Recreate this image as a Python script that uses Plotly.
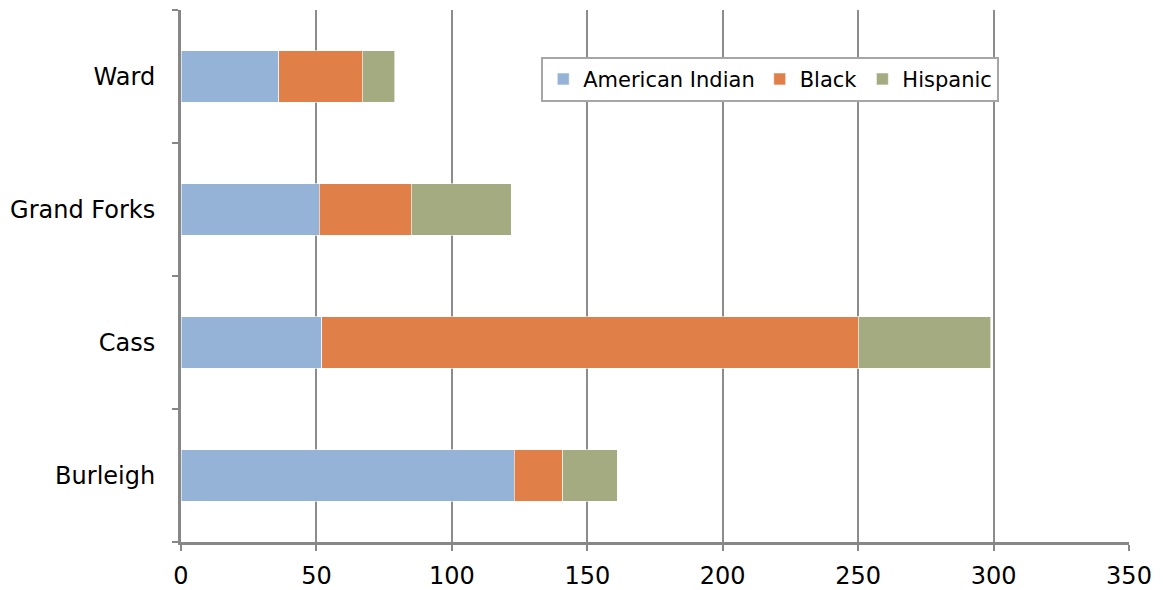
import plotly.graph_objects as go

counties = ["Burleigh", "Cass", "Grand Forks", "Ward"]
american_indian = [123, 52, 51, 36]
black = [18, 198, 34, 31]
hispanic = [20, 49, 37, 12]
x_ticks = [0, 50, 100, 150, 200, 250, 300, 350]

series = [
    ("American Indian", american_indian, "#95b3d7"),
    ("Black", black, "#e07f47"),
    ("Hispanic", hispanic, "#a5ab81"),
]

fig = go.Figure()
for name, vals, color in series:
    fig.add_trace(go.Bar(
        y=counties, x=vals, name=name, orientation="h",
        marker=dict(color=color, line=dict(color="rgba(255,255,255,0.6)", width=1)),
    ))

font_family = "'DejaVu Sans', sans-serif"
fig.update_layout(
    barmode="stack",
    bargap=0.61,
    width=1163, height=590,
    margin=dict(l=181, r=34, t=10, b=48),
    plot_bgcolor="white", paper_bgcolor="white",
    font=dict(family=font_family, size=24, color="black"),
    legend=dict(
        orientation="h", x=0.38, xanchor="left", y=0.912, yanchor="top",
        bgcolor="white", bordercolor="#a6a6a6", borderwidth=2,
        font=dict(size=21), traceorder="normal",
        itemwidth=30, tracegroupgap=0,
    ),
    xaxis=dict(
        range=[0, 350], tickvals=x_ticks, ticktext=[str(v) for v in x_ticks],
        showgrid=True, gridcolor="#8c8c8c", gridwidth=2,
        showline=True, linecolor="#878787", linewidth=3,
        ticks="outside", ticklen=6, tickwidth=2, tickcolor="#878787",
        ticklabelstandoff=4, automargin=False,
        zeroline=False, fixedrange=True,
    ),
    yaxis=dict(
        showline=True, linecolor="#878787", linewidth=3,
        ticks="outside", tickson="boundaries", ticklen=6, tickwidth=2, tickcolor="#878787",
        ticklabelstandoff=18, showgrid=False, fixedrange=True, automargin=False,
    ),
)

fig.write_html("out.html")
